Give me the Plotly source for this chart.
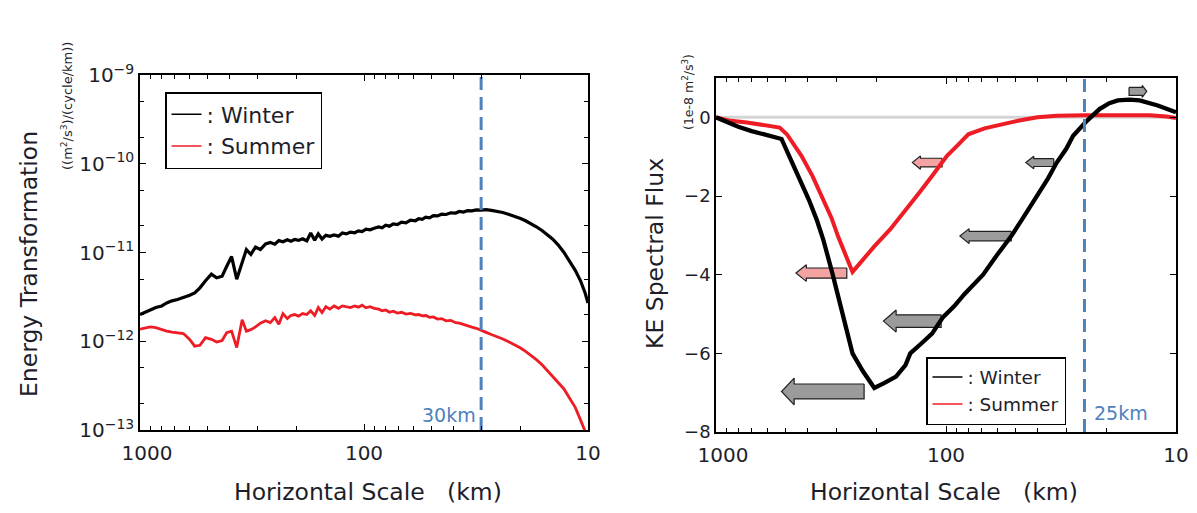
import math
import plotly.graph_objects as go

# ---------------- left panel: energy transformation spectra ----------------
scale_km = [1000, 950, 900, 850, 800, 760, 720, 680, 640, 600, 570, 540, 510, 480,
            455, 430, 410, 390, 370, 350, 335, 320, 305, 290, 275, 262, 250, 240,
            230, 220, 212, 204, 196, 188, 180, 173, 166, 160, 154, 148, 142, 136,
            130, 125, 120, 115, 110, 106, 102, 98, 94, 90, 86, 83, 80, 77, 74, 71,
            68, 65, 62, 59, 57, 55, 53, 51, 49, 47, 45, 43, 41, 39, 37.5, 36, 34.5,
            33, 31.5, 30, 28.5, 27, 25.5, 24, 22.5, 21, 20, 19, 18, 17, 16, 15.2,
            14.4, 13.6, 12.8, 12.1, 11.4, 10.8, 10.3, 10]

# values in units of 1e-12 (m²/s³)/(cycle/km)
winter_et = [2.0, 2.1, 2.25, 2.4, 2.5, 2.7, 2.85, 2.95, 3.1, 3.3, 3.5, 4.0, 4.8, 5.7,
             5.2, 5.4, 7.0, 9.0, 5.0, 8.0, 10.8, 9.5, 11.5, 10.8, 12.5, 13.0, 12.4, 13.6,
             13.2, 13.9, 13.4, 14.0, 13.7, 14.3, 13.5, 16.6, 13.8, 16.2, 14.2, 15.6, 15.2,
             15.8, 15.3, 16.6, 16.2, 17.0, 16.7, 17.5, 17.2, 18.3, 18.0, 18.8, 19.4, 19.0,
             20.3, 19.8, 21.0, 20.6, 22.0, 21.6, 23.2, 22.8, 24.0, 23.6, 25.0, 24.6, 26.0,
             25.8, 27.0, 26.8, 28.0, 27.8, 29.0, 28.6, 29.6, 29.4, 30.2, 30.0, 30.4, 29.8,
             29.2, 28.2, 26.8, 25.4, 24.2, 22.8, 21.2, 19.5, 17.6, 16.0, 14.2, 12.2, 10.0,
             8.0, 6.3, 4.8, 3.5, 2.7]
summer_et = [1.37, 1.40, 1.45, 1.42, 1.35, 1.30, 1.27, 1.24, 1.22, 1.05, 0.88, 0.90, 1.10,
             1.05, 0.98, 1.02, 1.25, 1.30, 0.85, 1.75, 1.30, 1.35, 1.45, 1.60, 1.70, 1.62,
             1.85, 1.55, 2.05, 1.80, 1.95, 2.00, 1.92, 2.05, 2.00, 2.20, 1.95, 2.40, 2.10,
             2.45, 2.30, 2.50, 2.35, 2.50, 2.45, 2.40, 2.50, 2.42, 2.55, 2.38, 2.45, 2.35,
             2.30, 2.20, 2.25, 2.12, 2.18, 2.08, 2.12, 2.02, 2.06, 1.98, 2.00, 1.93, 1.95,
             1.86, 1.88, 1.78, 1.80, 1.70, 1.72, 1.62, 1.60, 1.54, 1.50, 1.44, 1.40, 1.32,
             1.26, 1.19, 1.13, 1.06, 0.98, 0.90, 0.84, 0.77, 0.70, 0.62, 0.54, 0.47, 0.41,
             0.35, 0.29, 0.23, 0.18, 0.13, 0.095, 0.08]
ET_UNIT = 1e-12
cutoff_left_km = 30

et_tickvals = [1e-13, 1e-12, 1e-11, 1e-10, 1e-9]
et_ticktext = ["10<sup>\u221213</sup>", "10<sup>\u221212</sup>", "10<sup>\u221211</sup>",
               "10<sup>\u221210</sup>", "10<sup>\u22129</sup>"]
km_tickvals = [1000, 100, 10]
km_ticktext = ["\u2002\u20091000", "100", "10"]

# ---------------- right panel: KE spectral flux (1e-8 m²/s³) ----------------
winter_flux_km = [1000, 900, 800, 700, 600, 519, 474, 430, 395, 365, 342, 312, 295, 280,
                  265, 255, 230, 205, 185, 165, 150, 143, 128, 115, 103, 92, 83, 75, 69,
                  60, 52, 45, 40, 36, 33, 30, 28, 24.4, 21.5, 19.5, 17.9, 16, 14.4, 13,
                  12, 11, 10]
winter_flux = [0, -0.12, -0.24, -0.35, -0.45, -0.55, -1.06, -1.6, -2.09, -2.6, -3.1, -3.96,
               -4.5, -5.08, -5.6, -6.0, -6.45, -6.88, -6.75, -6.59, -6.3, -6.0, -5.75, -5.5,
               -5.08, -4.8, -4.49, -4.2, -4.0, -3.5, -3.02, -2.45, -2.0, -1.55, -1.15, -0.8,
               -0.47, -0.09, 0.21, 0.36, 0.43, 0.45, 0.43, 0.37, 0.30, 0.22, 0.13]
summer_flux_km = [1000, 880, 734, 600, 529, 492, 460, 425, 380, 342, 315, 295, 275, 255,
                  240, 205, 175, 153, 132, 115, 99, 88, 80, 68, 57, 48, 40, 33, 25, 18,
                  13, 11, 10]
summer_flux = [0, -0.08, -0.13, -0.2, -0.26, -0.43, -0.7, -0.98, -1.5, -2.09, -2.55, -3.02,
               -3.45, -3.93, -3.75, -3.28, -2.85, -2.43, -1.95, -1.49, -0.98, -0.68, -0.43,
               -0.28, -0.17, -0.08, 0.0, 0.04, 0.05, 0.05, 0.05, 0.02, -0.02]
cutoff_right_km = 25
flux_tickvals = [-8, -6, -4, -2, 0]
flux_ticktext = ["\u22128", "\u22126", "\u22124", "\u22122", "0"]

# cascade-direction arrows: tip and tail scale (km), flux level, season
arrow_tip_km = [519, 187, 87, 45, 13.4, 449, 140]
arrow_tail_km = [227, 105, 52, 34, 16, 270, 104]
arrow_level = [-6.97, -5.18, -3.02, -1.15, 0.66, -3.96, -1.15]
arrow_season = ["winter", "winter", "winter", "winter", "winter", "summer", "summer"]
# arrow drawing sizes: body half-height, head half-height (flux units), head length (decades)
arrow_body = [0.19, 0.16, 0.12, 0.10, 0.10, 0.13, 0.11]
arrow_head = [0.34, 0.28, 0.19, 0.16, 0.15, 0.21, 0.17]
arrow_headlen = [0.055, 0.055, 0.04, 0.035, 0.02, 0.045, 0.035]

FONT = "DejaVu Sans"
TXT = "#1e1e2a"
BLUE = "#4f81bd"
W, H = 1197, 513

# plot-area rectangles in pixels
L_X0, L_X1, L_Y0, L_Y1 = 140, 588, 75, 430
R_X0, R_X1, R_Y0, R_Y1 = 716, 1176, 78, 432


def px_x(p):
    return p / W


def px_y(p):
    return 1 - p / H


fig = go.Figure()

# left panel curves
fig.add_trace(go.Scatter(x=scale_km, y=[v * ET_UNIT for v in winter_et], mode="lines",
                         line=dict(color="black", width=3.2), showlegend=False,
                         hoverinfo="skip", xaxis="x", yaxis="y"))
fig.add_trace(go.Scatter(x=scale_km, y=[v * ET_UNIT for v in summer_et], mode="lines",
                         line=dict(color="#ee1c25", width=2.8), showlegend=False,
                         hoverinfo="skip", xaxis="x", yaxis="y"))
fig.add_trace(go.Scatter(x=[cutoff_left_km, cutoff_left_km], y=[1e-13, 1e-9], mode="lines",
                         line=dict(color=BLUE, width=3, dash="13px,7px"), showlegend=False,
                         hoverinfo="skip", xaxis="x", yaxis="y"))
# legend entries (thin samples)
fig.add_trace(go.Scatter(x=[None], y=[None], mode="lines", name=": Winter",
                         line=dict(color="black", width=1.5), legend="legend",
                         xaxis="x", yaxis="y"))
fig.add_trace(go.Scatter(x=[None], y=[None], mode="lines", name=": Summer",
                         line=dict(color="#ee1c25", width=1.5), legend="legend",
                         xaxis="x", yaxis="y"))

# right panel: zero reference
fig.add_trace(go.Scatter(x=[1000, 10], y=[0, 0], mode="lines",
                         line=dict(color="#d4d4d4", width=3), showlegend=False,
                         hoverinfo="skip", xaxis="x2", yaxis="y2"))

# arrows
for tip, tail, lvl, season, hb, hh, hl in zip(arrow_tip_km, arrow_tail_km, arrow_level,
                                              arrow_season, arrow_body, arrow_head,
                                              arrow_headlen):
    lt, la = math.log10(tip), math.log10(tail)
    d = 1 if lt > la else -1
    lb = lt - d * hl
    xs = [la, lb, lb, lt, lb, lb, la, la]
    ys = [lvl + hb, lvl + hb, lvl + hh, lvl, lvl - hh, lvl - hb, lvl - hb, lvl + hb]
    fill = "#9b9b9b" if season == "winter" else "#f4a3a3"
    fig.add_trace(go.Scatter(x=[10 ** v for v in xs], y=ys, mode="lines", fill="toself",
                             fillcolor=fill, line=dict(color="#202020", width=1.2),
                             showlegend=False, hoverinfo="skip", xaxis="x2", yaxis="y2"))

fig.add_trace(go.Scatter(x=summer_flux_km, y=summer_flux, mode="lines",
                         line=dict(color="#ee1c25", width=4), showlegend=False,
                         hoverinfo="skip", xaxis="x2", yaxis="y2"))
fig.add_trace(go.Scatter(x=winter_flux_km, y=winter_flux, mode="lines",
                         line=dict(color="black", width=4.3), showlegend=False,
                         hoverinfo="skip", xaxis="x2", yaxis="y2"))
fig.add_trace(go.Scatter(x=[cutoff_right_km, cutoff_right_km], y=[-8, 1], mode="lines",
                         line=dict(color=BLUE, width=3, dash="13px,7px"), showlegend=False,
                         hoverinfo="skip", xaxis="x2", yaxis="y2"))
fig.add_trace(go.Scatter(x=[None], y=[None], mode="lines", name=": Winter",
                         line=dict(color="black", width=1.5), legend="legend2",
                         xaxis="x2", yaxis="y2"))
fig.add_trace(go.Scatter(x=[None], y=[None], mode="lines", name=": Summer",
                         line=dict(color="#ee1c25", width=1.5), legend="legend2",
                         xaxis="x2", yaxis="y2"))

axis_common = dict(showline=True, linecolor="black", linewidth=1.5, mirror="allticks",
                   ticks="inside", ticklen=6, tickcolor="black", showgrid=False,
                   zeroline=False, automargin=False,
                   tickfont=dict(family=FONT, size=20, color=TXT))
x_common = dict(axis_common, type="log", range=[3, 1], tickvals=km_tickvals,
                ticktext=km_ticktext, ticklabelstandoff=4,
                minor=dict(ticks="inside", ticklen=4, tickcolor="black", dtick="D1",
                           showgrid=False))

fig.update_layout(
    width=W, height=H, margin=dict(l=0, r=0, t=0, b=0, autoexpand=False),
    paper_bgcolor="white", plot_bgcolor="white",
    font=dict(family=FONT, color=TXT),
    xaxis=dict(x_common, domain=[px_x(L_X0), px_x(L_X1)], anchor="y"),
    yaxis=dict(axis_common, type="log", range=[-13, -9], tickvals=et_tickvals,
               ticktext=et_ticktext, domain=[px_y(L_Y1), px_y(L_Y0)], anchor="x",
               minor=dict(ticks="inside", ticklen=4, tickcolor="black", dtick="D2",
                          showgrid=False)),
    xaxis2=dict(x_common, domain=[px_x(R_X0), px_x(R_X1)], anchor="y2"),
    yaxis2=dict(axis_common, range=[-8, 1], tickvals=flux_tickvals, ticktext=flux_ticktext,
                tickfont=dict(family=FONT, size=18, color=TXT),
                domain=[px_y(R_Y1), px_y(R_Y0)], anchor="x2"),
    legend=dict(x=px_x(165), y=px_y(92), xanchor="left", yanchor="top",
                bordercolor="black", borderwidth=1.5, bgcolor="white",
                font=dict(family=FONT, size=22, color=TXT), itemwidth=30,
                tracegroupgap=0),
    legend2=dict(x=px_x(926), y=px_y(357), xanchor="left", yanchor="top",
                 bordercolor="black", borderwidth=1.5, bgcolor="white",
                 font=dict(family=FONT, size=18.5, color=TXT), itemwidth=30,
                 tracegroupgap=0),
    showlegend=True,
)

annotations = [
    dict(text="Energy Transformation", x=px_x(29), y=px_y(264), textangle=-90,
         font=dict(size=23.5)),
    dict(text="((m<sup>2</sup>/s<sup>3</sup>)/(cycle/km))", x=px_x(67), y=px_y(106),
         textangle=-90, font=dict(size=13)),
    dict(text="Horizontal Scale   (km)", x=px_x(368), y=px_y(492), font=dict(size=23.5)),
    dict(text="KE Spectral Flux", x=px_x(655), y=px_y(254), textangle=-90,
         font=dict(size=23.5)),
    dict(text="(1e-8 m<sup>2</sup>/s<sup>3</sup>)", x=px_x(688), y=px_y(92),
         textangle=-90, font=dict(size=12.5)),
    dict(text="Horizontal Scale   (km)", x=px_x(944), y=px_y(492), font=dict(size=23.5)),
]
for a in annotations:
    a.update(xref="paper", yref="paper", showarrow=False, xanchor="center",
             yanchor="middle")
    a["font"] = dict(a["font"], family=FONT, color=TXT)

annotations.append(dict(text="30km", xref="x", yref="paper", x=math.log10(cutoff_left_km),
                        y=px_y(415), xanchor="right", yanchor="middle", xshift=-3,
                        showarrow=False, font=dict(family=FONT, size=19, color=BLUE)))
annotations.append(dict(text="25km", xref="x2", yref="paper", x=math.log10(cutoff_right_km),
                        y=px_y(413), xanchor="left", yanchor="middle", xshift=8,
                        showarrow=False, font=dict(family=FONT, size=19, color=BLUE)))
fig.update_layout(annotations=annotations)

fig.write_html("out.html")
